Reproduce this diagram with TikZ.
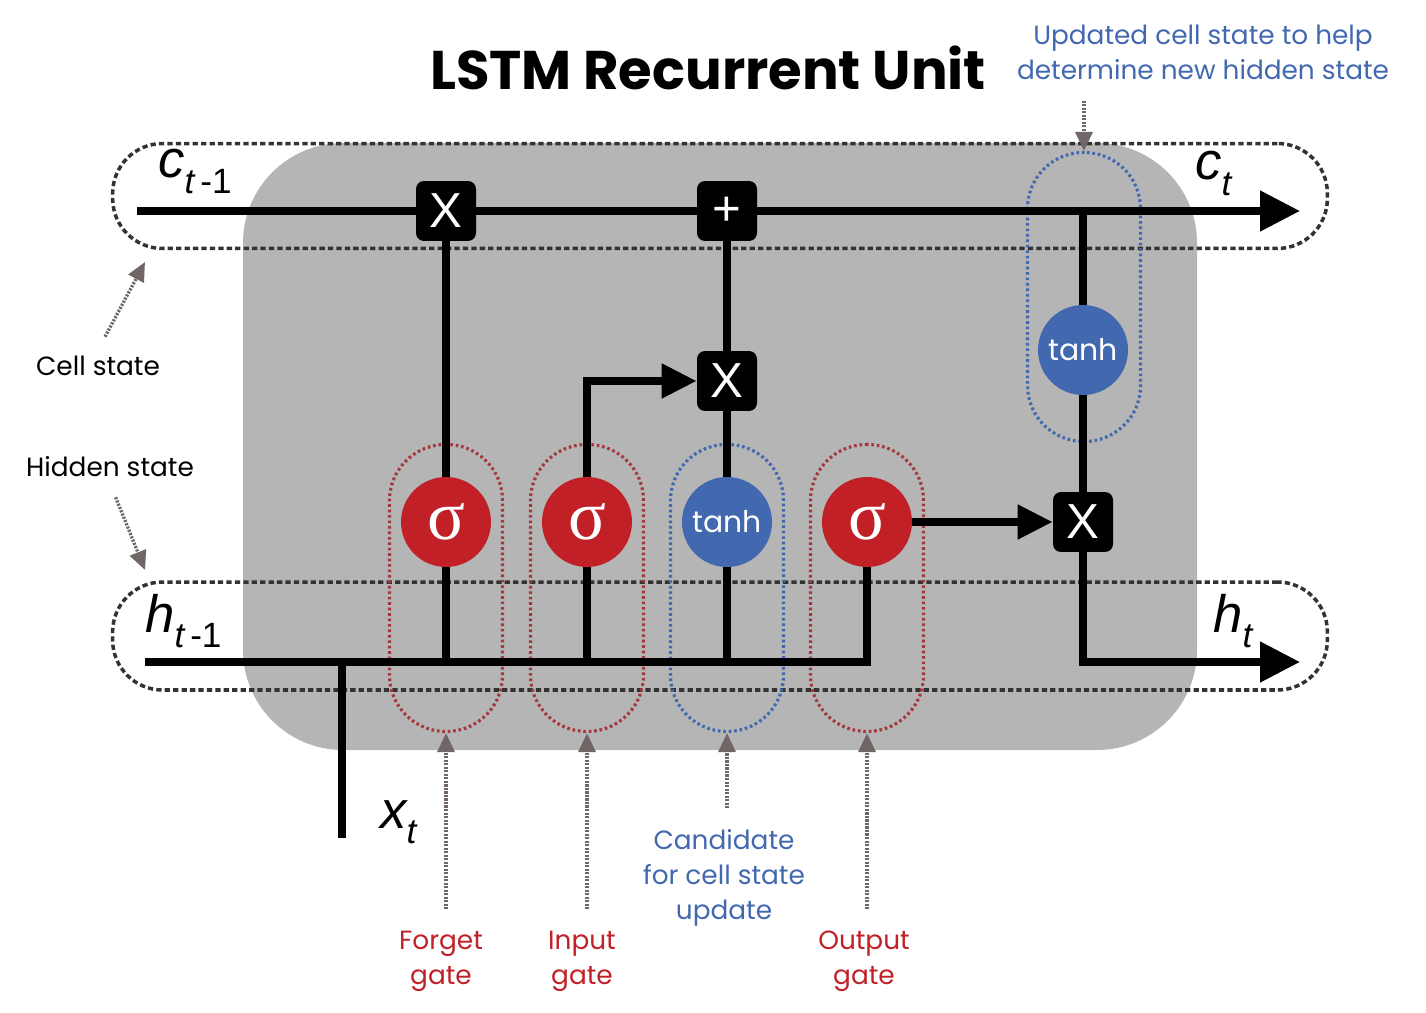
\documentclass[tikz,border=0pt]{standalone}
\usepackage{fontspec}
\setmainfont{Poppins}
\newfontfamily\varfont{Liberation Sans}
\newfontfamily\greekfont{Liberation Serif}
\usetikzlibrary{arrows.meta,positioning}
\definecolor{unitgray}{RGB}{181,181,181}
\definecolor{gatered}{RGB}{193,32,38}
\definecolor{gateblue}{RGB}{66,104,176}
\definecolor{notegray}{RGB}{112,102,102}
\newcommand{\tsub}[1]{\raisebox{-9pt}{\fontsize{20}{20}\selectfont #1}}

\begin{document}
\begin{tikzpicture}[x=0.02cm, y=-0.02cm,
    op/.style={rectangle, fill=black, text=white, rounded corners=0.16cm, minimum size=1.2cm, inner sep=0pt, font=\varfont\fontsize{28}{28}\selectfont},
    gate/.style={circle, fill=gatered, text=white, minimum size=1.8cm, inner sep=0pt, font=\greekfont\fontsize{40}{40}\selectfont},
    cand/.style={gate, fill=gateblue, font=\fontsize{17}{17}\selectfont},
    statebox/.style={draw=black!80, line width=2pt, dash pattern=on 3pt off 1.8pt, rounded corners=1cm, minimum width=24.3cm},
    pill/.style={draw=gatered!65!notegray, line width=1.8pt, dash pattern=on 1.5pt off 1.6pt, rounded corners=1.12cm, minimum width=2.26cm, minimum height=5.74cm},
    bluepill/.style={pill, draw=gateblue},
    flow/.style={draw, line width=4.5pt, line join=miter},
    flowarrow/.style={flow, -{Triangle[length=0.7cm, width=0.66cm]}},
    bigarrow/.style={flow, -{Triangle[length=0.8cm, width=0.78cm]}},
    note/.style={draw=notegray, line width=1.9pt, dash pattern=on 1.2pt off 0.8pt, -{Triangle[length=0.38cm, width=0.34cm]}, shorten <=0.3cm},
    statevar/.style={font=\varfont\itshape\fontsize{30}{30}\selectfont, inner sep=0pt},
    textlabel/.style={font=\fontsize{15}{20}\selectfont, align=center},
    redlabel/.style={textlabel, text=gatered},
    bluelabel/.style={textlabel, text=gateblue}
    ]
    \useasboundingbox (0,0) rectangle (1426,1013);
    % cell body
    \fill[unitgray, rounded corners=2cm] (243,143) rectangle (1197,750);
    \node[statebox, minimum height=2.1cm] (cbox) at (720,196) {};
    \node[statebox, minimum height=2.16cm] (hbox) at (720,636) {};
    % gate outlines
    \node[pill] (fpill) at (446,588) {};
    \node[pill] (ipill) at (587,588) {};
    \node[bluepill] (cpill) at (727,588) {};
    \node[pill] (opill) at (867,588) {};
    \node[bluepill, minimum height=5.78cm] (upill) at (1084,297) {};

    \node[op] (fx) at (446,211) {X};
    \node[op] (add) at (727,211) {+};
    \node[op] (ix) at (727,381) {X};
    \node[op] (ox) at (1083,522) {X};
    \node[gate] (fg) at (446,522) {σ};
    \node[gate] (ig) at (587,522) {σ};
    \node[cand] (cg) at (727,522) {tanh};
    \node[gate] (og) at (867,522) {σ};
    \node[cand] (ct) at (1083,350) {tanh};

    \coordinate (cin) at (137,211);
    \coordinate (cout) at (1300,211);
    \coordinate (hin) at (145,662);
    \coordinate (hout) at (1300,662);
    \coordinate (xin) at (342,838);

    % cell state
    \draw[flow] (cin) -- (fx);
    \draw[flow] (fx) -- (add);
    \draw[bigarrow] (add) -- (cout);
    \draw[flow] (ct) -- (ct |- cout);
    \draw[flow] (ct) -- (ox);
    % hidden state and input
    \draw[flow] (hin) -| (og);
    \draw[flow] (xin) -- (xin |- hin);
    \draw[flow] (fg) -- (fg |- hin);
    \draw[flow] (ig) -- (ig |- hin);
    \draw[flow] (cg) -- (cg |- hin);
    \draw[flow] (fg) -- (fx);
    \draw[flowarrow] (ig) |- (ix);
    \draw[flow] (cg) -- (ix);
    \draw[flow] (ix) -- (add);
    \draw[flowarrow] (og) -- (ox);
    \draw[bigarrow] (ox) |- (hout);

    \node[statevar, anchor=base west] (cprev) at (158,178) {c\tsub{t\,\upshape-1}};
    \node[statevar, anchor=base west] (cnext) at (1195,180) {c\tsub{t}};
    \node[statevar, anchor=base west] (hprev) at (145,632) {h\tsub{t\,\upshape-1}};
    \node[statevar, anchor=base west] (hnext) at (1213,632) {h\tsub{t}};
    \node[statevar, anchor=base west] (xcur) at (380,828) {x\tsub{t}};

    % titles and notes
    \node[font=\bfseries\fontsize{31}{31}\selectfont] (title) at (708,68) {LSTM Recurrent Unit};
    \node[bluelabel] (ulab) at (1203,52) {Updated cell state to help\\determine new hidden state};
    \node[textlabel] (cslab) at (98,366) {Cell state};
    \node[textlabel] (hslab) at (110,467) {Hidden state};
    \node[redlabel] (flab) at (441,961) {Forget\\gate};
    \node[redlabel] (ilab) at (582,961) {Input\\gate};
    \node[bluelabel] (clab) at (724,878) {Candidate\\for cell state\\update};
    \node[redlabel] (olab) at (864,961) {Output\\gate};

    \coordinate (cstip) at (145,262);
    \coordinate (hstip) at (145,570);
    \draw[note] (flab.north -| fpill.south) -- (fpill.south);
    \draw[note] (ilab.north -| ipill.south) -- (ipill.south);
    \draw[note] (clab.north -| cpill.south) -- (cpill.south);
    \draw[note] (olab.north -| opill.south) -- (opill.south);
    \draw[note] (ulab.south -| upill.north) -- (upill.north);
    \draw[note] (cslab.north) -- (cstip);
    \draw[note] (hslab.south) -- (hstip);
\end{tikzpicture}
\end{document}
